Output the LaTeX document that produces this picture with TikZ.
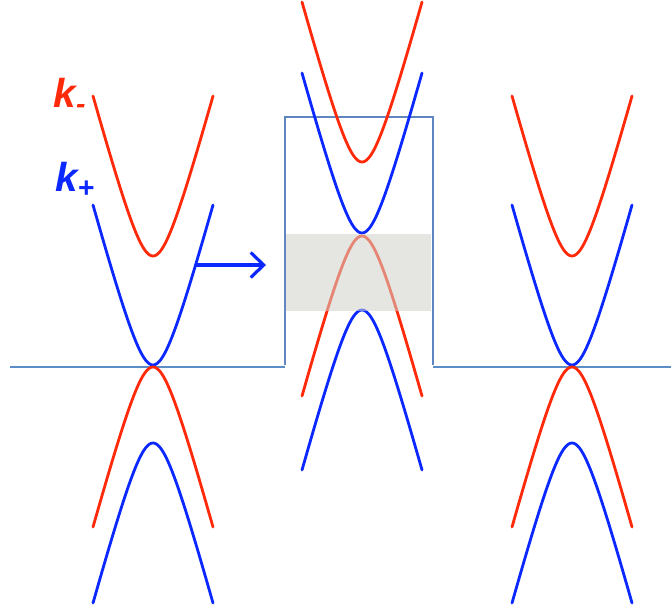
\documentclass[tikz,border=0pt]{standalone}
\usepackage{fontspec}
\setmainfont{Liberation Sans}
\definecolor{BandRed}{HTML}{FF2A0A}
\definecolor{BandBlue}{HTML}{0A28FF}
\definecolor{AxisBlue}{HTML}{5B8DC6}
\definecolor{BoxBlue}{HTML}{5F86C0}
\definecolor{GapGray}{HTML}{D0D0CA}
\usetikzlibrary{arrows.meta}

\begin{document}
\begin{tikzpicture}[x=0.02cm, y=-0.02cm,
    band/.style={line width=1.6pt, line cap=round},
    axis/.style={AxisBlue, line width=1.5pt},
    frame/.style={BoxBlue, line width=0.6pt},
    gap/.style={fill=GapGray, fill opacity=0.55, draw=none},
    lbl/.style={font=\fontsize{23}{23}\selectfont\bfseries\itshape, inner sep=0pt},
    arr/.style={-{Straight Barb[length=2.6mm, width=5mm, line width=1.8pt]}, BandBlue, line width=1.9pt}
  ]
  \useasboundingbox (0,0) rectangle (671,611);
  % baseline and barrier
  \draw[axis] (10,367) -- (285,367);
  \draw[axis] (433,367) -- (671,367);
  \draw[frame] (285,365) -- (285,117) -- (433,117) -- (433,365);
  % bands: centre / vertex / direction / colour
  \foreach \cx/\vy/\s/\col in {153/256/-1/BandRed, 153/365/-1/BandBlue,
      153/367/1/BandRed, 153/443/1/BandBlue,
      362/162/-1/BandRed, 362/233/-1/BandBlue,
      362/236/1/BandRed, 362/310/1/BandBlue,
      572/256/-1/BandRed, 572/365/-1/BandBlue,
      572/367/1/BandRed, 572/443/1/BandBlue}
    \draw[band, \col] plot[domain=-60:60, samples=81, variable=\t]
      ({\cx+\t}, {\vy+\s*3.7*(sqrt(\t*\t+400)-20)});
  % gap
  \fill[gap] (286,234) rectangle (431,311);
  % shift arrow
  \coordinate (shiftA) at (196,265);
  \coordinate (shiftB) at (266,265);
  \draw[arr] (shiftA) -- (shiftB);
  % labels
  \node[lbl, BandRed] (kminus) at (70,96) {k\textsubscript{-}};
  \node[lbl, BandBlue] (kplus) at (75,180) {k\textsubscript{+}};
\end{tikzpicture}
\end{document}
